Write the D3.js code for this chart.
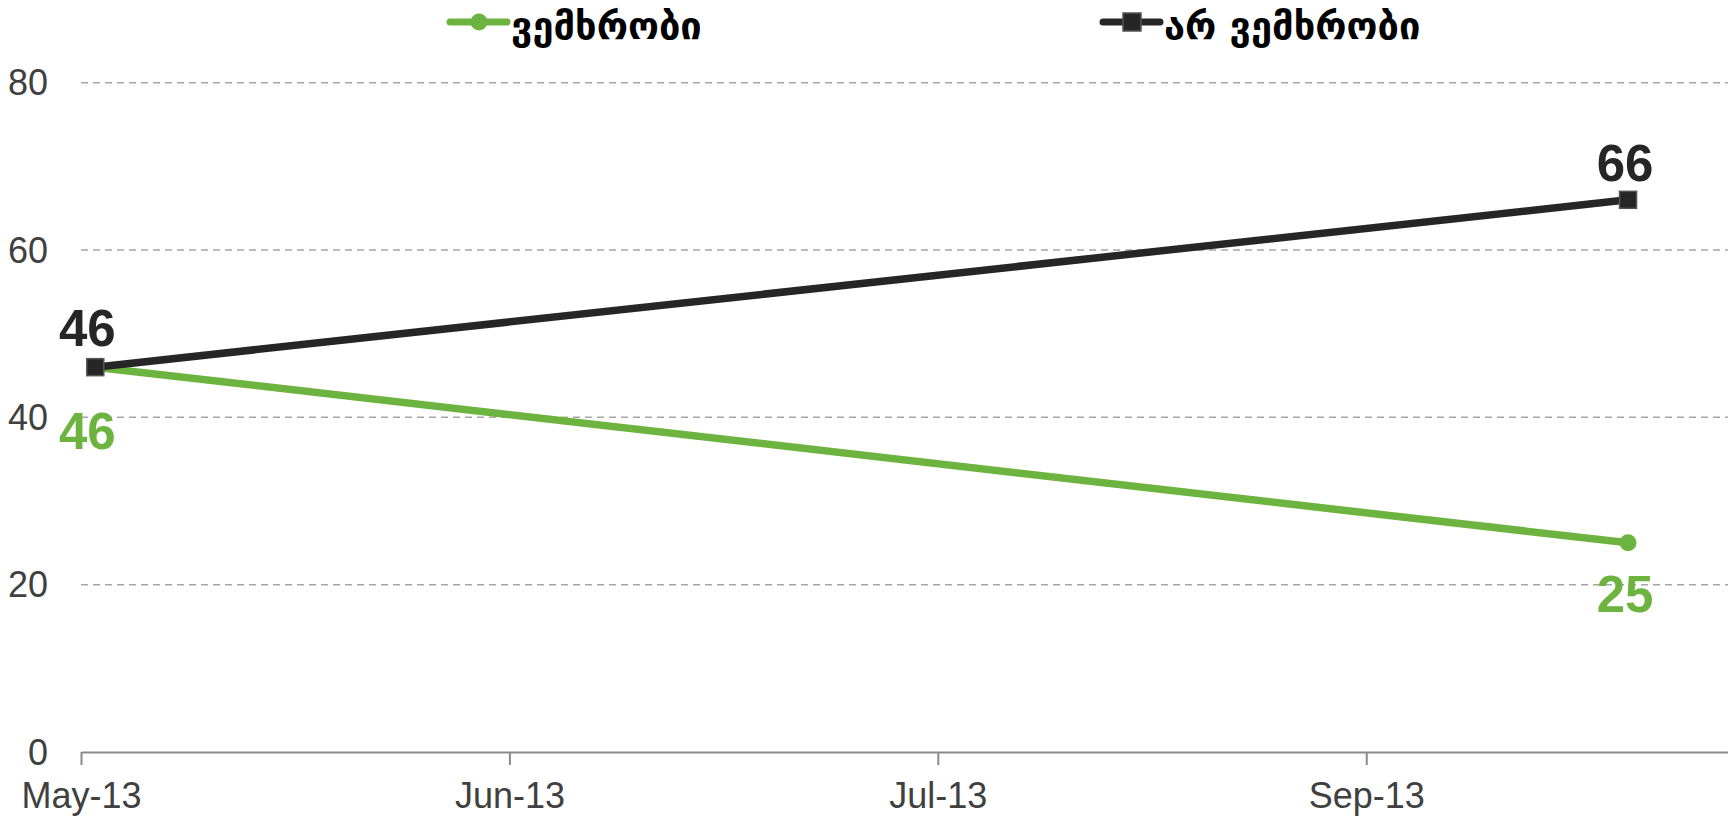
<!DOCTYPE html>
<html>
<head>
<meta charset="utf-8">
<script src="https://cdn.jsdelivr.net/npm/d3@7"></script>
<style>
  body { margin: 0; background: #fff; }
  svg { display: block; }
</style>
</head>
<body>
<script>
// data
var dates = ["2013-05-02", "2013-10-10"];
var supporters = [46, 25];      // ვემხრობი
var nonSupporters = [46, 66];   // არ ვემხრობი
var seriesNames = ["ვემხრობი", "არ ვემხრობი"];
var yTicks = [0, 20, 40, 60, 80];
var xTickDates = ["2013-05-01", "2013-06-15", "2013-07-30", "2013-09-13"];

var W = 1728, H = 817;
var green = "#6db33f", dark = "#262626";

var parseDate = d3.timeParse("%Y-%m-%d");
var dayMs = 864e5;
var start = parseDate("2013-05-01");

// set the ranges (absolute page coordinates)
var x = d3.scaleTime()
    .domain([start, new Date(start.getTime() + 173 * dayMs)])
    .range([81, W]);
var y = d3.scaleLinear().domain([0, 80]).range([752, 82.7]);

// excel draws date points centred in their day slot
function px(d) { return x(new Date(d.getTime() + dayMs / 2)); }

var svg = d3.select("body").append("svg")
    .attr("width", W)
    .attr("height", H);

// gridlines
svg.append("g").selectAll("line")
    .data(yTicks.filter(function(t) { return t > 0; }))
    .enter().append("line")
      .attr("x1", x.range()[0]).attr("x2", x.range()[1])
      .attr("y1", function(d) { return y(d); })
      .attr("y2", function(d) { return y(d); })
      .attr("stroke", "#a6a6a6")
      .attr("stroke-width", 1.5)
      .attr("stroke-dasharray", "7,5");

// y labels
svg.append("g").selectAll("text")
    .data(yTicks)
    .enter().append("text")
      .attr("x", 48)
      .attr("y", function(d) { return y(d); })
      .attr("dy", "0.35em")
      .attr("text-anchor", "end")
      .style("font-family", "Liberation Sans, Arial, sans-serif")
      .style("font-size", "36px")
      .style("fill", "#404040")
      .text(function(d) { return d; });

// x axis
var xAxis = d3.axisBottom(x)
    .tickValues(xTickDates.map(parseDate))
    .tickFormat(d3.timeFormat("%b-%y"))
    .tickSize(13)
    .tickSizeOuter(0)
    .tickPadding(17);

var gx = svg.append("g")
    .attr("transform", "translate(0," + y(0) + ")")
    .call(xAxis);
gx.select(".domain").attr("stroke", "#898989").attr("stroke-width", 2);
gx.selectAll(".tick line").attr("stroke", "#898989").attr("stroke-width", 2);
gx.selectAll(".tick text")
    .style("font-family", "Liberation Sans, Arial, sans-serif")
    .style("font-size", "36px")
    .style("fill", "#404040");

// series
var pts = dates.map(parseDate);
var series = [
  {name: seriesNames[0], values: supporters, color: green, marker: "circle", below: true},
  {name: seriesNames[1], values: nonSupporters, color: dark, marker: "square", below: false}
];

var line = d3.line()
    .x(function(d) { return px(d.date); })
    .y(function(d) { return y(d.v); });

series.forEach(function(s) {
  var data = pts.map(function(d, i) { return {date: d, v: s.values[i]}; });

  svg.append("path")
      .datum(data)
      .attr("fill", "none")
      .attr("stroke", s.color)
      .attr("stroke-width", 7.5)
      .attr("d", line);

  if (s.marker === "circle") {
    svg.selectAll(null).data(data).enter().append("circle")
        .attr("cx", function(d) { return px(d.date); })
        .attr("cy", function(d) { return y(d.v); })
        .attr("r", 8.5)
        .attr("fill", s.color);
  } else {
    svg.selectAll(null).data(data).enter().append("rect")
        .attr("x", function(d) { return px(d.date) - 8.5; })
        .attr("y", function(d) { return y(d.v) - 8.5; })
        .attr("width", 17).attr("height", 17)
        .attr("fill", s.color)
        .attr("stroke", "#555")
        .attr("stroke-width", 1.5);
  }

  // data labels
  svg.selectAll(null).data(data).enter().append("text")
      .attr("x", function(d, i) { return px(d.date) - (i === 0 ? 8 : 3); })
      .attr("y", function(d, i) {
        var off = s.below ? (i === 0 ? 82 : 69) : (i === 0 ? -21 : -19);
        return y(d.v) + off;
      })
      .attr("text-anchor", "middle")
      .style("font-family", "Liberation Sans, Arial, sans-serif")
      .style("font-weight", "bold")
      .style("font-size", "51px")
      .style("fill", s.color)
      .text(function(d) { return d.v; });
});

// legend
var legendX = [450, 1103];
series.forEach(function(s, i) {
  var g = svg.append("g").attr("transform", "translate(" + legendX[i] + ",22)");
  g.append("line")
      .attr("x1", 0).attr("x2", 57)
      .attr("stroke", s.color)
      .attr("stroke-width", 7)
      .attr("stroke-linecap", "round");
  if (s.marker === "circle") {
    g.append("circle").attr("cx", 29).attr("r", 8.5).attr("fill", s.color);
  } else {
    g.append("rect").attr("x", 20).attr("y", -9).attr("width", 18).attr("height", 18)
        .attr("fill", s.color).attr("stroke", "#555").attr("stroke-width", 1.5);
  }
  g.append("text")
      .attr("x", 61)
      .attr("y", 17)
      .style("font-family", "DejaVu Sans, sans-serif")
      .style("font-size", "38px")
      .style("font-weight", "bold")
      .style("fill", "#000")
      .text(s.name);
});
</script>
</body>
</html>
